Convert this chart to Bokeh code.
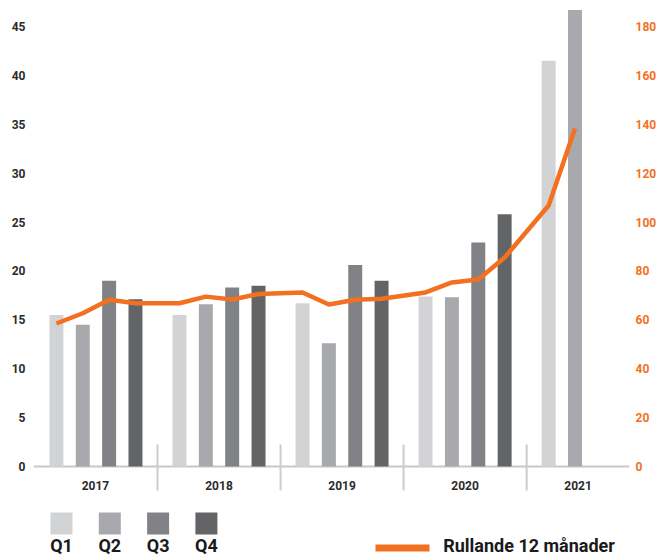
from bokeh.plotting import figure
from bokeh.models import Range1d, LinearAxis, FixedTicker, Span
from bokeh.layouts import column
from bokeh.embed import file_html
from bokeh.resources import INLINE
from bokeh.core.properties import value

# ---------------- data ----------------
years = ["2017", "2018", "2019", "2020", "2021"]
quarters = ["Q1", "Q2", "Q3", "Q4"]
q1 = [15.5, 15.5, 16.7, 17.4, 41.5]
q2 = [14.5, 16.6, 12.6, 17.3, 46.7]
q3 = [19.0, 18.3, 20.6, 22.9, None]
q4 = [17.1, 18.5, 19.0, 25.8, None]
rolling_12 = [58.5, 62.7, 68.2, 66.8,
              66.8, 69.5, 68.3, 70.6,
              71.2, 66.3, 68.2, 68.6,
              71.2, 75.3, 76.5, 85.5,
              106.8, 138.3]
left_ticks = [0, 5, 10, 15, 20, 25, 30, 35, 40, 45]
right_ticks = [0, 20, 40, 60, 80, 100, 120, 140, 160, 180]
line_label = "Rullande 12 månader"

# ---------------- style ----------------
bar_colors = ["#d1d3d4", "#a7a9ac", "#808285", "#636466"]
orange = "#f37021"
text_dark = "#2b2b2b"
FONT = "Roboto"
GROUP_STEP = 4.67
BAR_W = 0.53
W = 659
BL, BR = 33, 30            # frame borders (px)
FRAME_L, FRAME_R = BL, W - BR
X_START = -0.87
X_END = X_START + (FRAME_R - FRAME_L) / 26.35
Y_START, Y_END = -3.27, 47.66
RATIO = 4.0
MAIN_H = 498
LEG_H = 59

series = [q1, q2, q3, q4]

def pos(g, q):
    return g * GROUP_STEP + q

p = figure(width=W, height=MAIN_H, output_backend="svg", toolbar_location=None,
           x_range=Range1d(X_START, X_END), y_range=Range1d(Y_START, Y_END),
           x_axis_type=None, y_axis_type=None,
           min_border_left=BL, min_border_right=BR, min_border_top=0, min_border_bottom=0)
p.outline_line_color = None
p.background_fill_color = "white"
p.border_fill_color = "white"
p.extra_y_ranges = {"right": Range1d(Y_START * RATIO, Y_END * RATIO)}

la = LinearAxis(ticker=FixedTicker(ticks=left_ticks))
ra = LinearAxis(ticker=FixedTicker(ticks=right_ticks), y_range_name="right")
for ax, col, so in ((la, text_dark, 8), (ra, orange, 6)):
    ax.axis_line_color = None
    ax.major_tick_line_color = None
    ax.minor_tick_line_color = None
    ax.major_tick_out = 0
    ax.major_tick_in = 0
    ax.minor_tick_out = 0
    ax.minor_tick_in = 0
    ax.major_label_standoff = so
    ax.major_label_text_font = FONT
    ax.major_label_text_font_style = "bold"
    ax.major_label_text_font_size = "12px"
    ax.major_label_text_color = col
p.add_layout(la, "left")
p.add_layout(ra, "right")

p.xgrid.visible = False
p.ygrid.ticker = FixedTicker(ticks=left_ticks)
p.ygrid.grid_line_color = "#dcdcdc"
p.ygrid.grid_line_width = 1.5

p.add_layout(Span(location=0, dimension="width", line_color="#c8c8c8",
                  line_width=2, level="underlay"))

# bars
for qi, vals in enumerate(series):
    xs, tops = [], []
    for g, v in enumerate(vals):
        if v is not None:
            xs.append(pos(g, qi))
            tops.append(v)
    p.vbar(x=xs, top=tops, bottom=0, width=BAR_W, fill_color=bar_colors[qi], line_color=None)

# rolling line
lx = []
for g in range(len(years)):
    for qi in range(4):
        if series[qi][g] is not None:
            lx.append(pos(g, qi))
p.line(x=lx, y=rolling_12, line_color=orange, line_width=4.5, y_range_name="right",
       line_join="round")

# separators and year labels
seps = [(pos(g, 3) + pos(g + 1, 0)) / 2 for g in range(len(years) - 1)]
p.segment(x0=seps, y0=[2.25] * len(seps), x1=seps, y1=[-2.45] * len(seps),
          line_color="#cccccc", line_width=2)
bounds = [X_START] + seps + [X_END]
centers = [(bounds[i] + bounds[i + 1]) / 2 for i in range(len(years))]
p.text(x=centers, y=[-1.93] * len(years), text=years, text_align="center",
       text_baseline="middle", text_font=value(FONT), text_font_style="bold",
       text_font_size="12px", text_color=text_dark)

# ---------------- legend ----------------
# frame of the legend figure is aligned with the main one, so map its x range
# to page pixels
lg = figure(width=W, height=LEG_H, output_backend="svg", toolbar_location=None,
            x_range=Range1d(FRAME_L, FRAME_R), y_range=Range1d(LEG_H, 0),
            x_axis_type=None, y_axis_type=None,
            min_border_left=BL, min_border_right=BR,
            min_border_top=0, min_border_bottom=0)
lg.outline_line_color = None
lg.xgrid.visible = False
lg.ygrid.visible = False
sq_x = [61 + i * 48.3 for i in range(4)]
lg.rect(x=sq_x, y=[25] * 4, width=22, height=22, fill_color=bar_colors, line_color=None)
lg.text(x=sq_x, y=[47] * 4, text=quarters, text_align="center", text_baseline="middle",
        text_font=value(FONT), text_font_style="bold", text_font_size="18px",
        text_color="#1a1a1a")
lg.segment(x0=[375], y0=[49.5], x1=[429], y1=[49.5], line_color=orange, line_width=7)
lg.text(x=[442.7], y=[47], text=[line_label], text_align="left", text_baseline="middle",
        text_font=value(FONT), text_font_style="bold", text_font_size="18px",
        text_color="#1a1a1a")

layout = column(p, lg, spacing=0)
open("out.html", "w").write(file_html(layout, INLINE))
